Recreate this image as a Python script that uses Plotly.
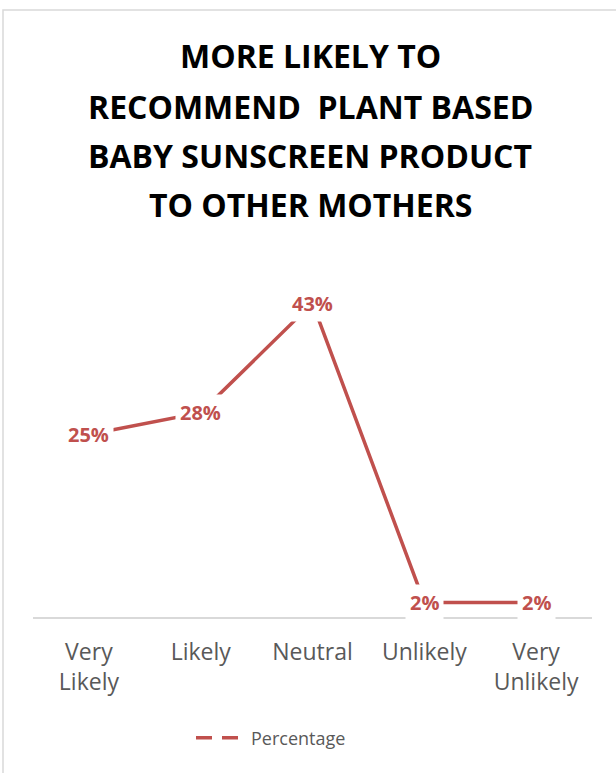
import plotly.graph_objects as go

categories = ["Very<br>Likely", "Likely", "Neutral", "Unlikely", "Very<br>Unlikely"]
percentages = [25, 28, 43, 2, 2]
title_lines = ["MORE LIKELY TO", "RECOMMEND  PLANT BASED", "BABY SUNSCREEN PRODUCT", "TO OTHER MOTHERS"]
series_name = "Percentage"

RED = "#C0504D"
GRAY = "#595959"
FONT = "Open Sans"

W, H = 616, 773
L, R = 33, 24
T, B = 252, 156
plot_h = H - T - B

def py(ypix):
    return (H - B - ypix) / plot_h

def px(xpix):
    return (xpix - L) / (W - L - R)

fig = go.Figure()
fig.add_trace(go.Scatter(
    x=categories, y=percentages, mode="lines",
    line=dict(color=RED, width=3.5), showlegend=False, hoverinfo="skip"))
fig.add_trace(go.Scatter(
    x=[None], y=[None], mode="lines", name=series_name,
    line=dict(color=RED, width=3.5, dash="16px,10px"), showlegend=True))

annotations = []
for c, v in zip(categories, percentages):
    annotations.append(dict(
        x=c, y=v, xref="x", yref="y", text=f"{v}%", showarrow=False,
        font=dict(family=FONT, size=20, color=RED, weight="bold"),
        bgcolor="white", borderpad=4))

title_y = [55, 106, 155, 204]
for line, yp in zip(title_lines, title_y):
    annotations.append(dict(
        x=px(310), y=py(yp), xref="paper", yref="paper", text=line, showarrow=False,
        xanchor="center", yanchor="middle",
        font=dict(family=FONT, size=32, color="black", weight="bold")))

fig.update_layout(
    width=W, height=H,
    margin=dict(l=L, r=R, t=T, b=B),
    paper_bgcolor="white", plot_bgcolor="white",
    annotations=annotations,
    showlegend=True,
    legend=dict(orientation="h", x=px(191), xanchor="left", y=py(738), yanchor="middle",
                font=dict(family=FONT, size=18, color=GRAY), itemwidth=50),
    xaxis=dict(showline=True, linecolor="#D9D9D9", linewidth=1.5, showgrid=False,
               ticks="", tickfont=dict(family=FONT, size=23, color=GRAY), zeroline=False,
               range=[-0.5, 4.5], ticklabelstandoff=14, fixedrange=True),
    yaxis=dict(range=[0, 50], visible=False, showgrid=False, zeroline=False, fixedrange=True),
    shapes=[dict(type="rect", xref="paper", yref="paper",
                 x0=px(3), x1=px(640), y0=py(800), y1=py(10),
                 line=dict(color="#D9D9D9", width=1.5), fillcolor="rgba(0,0,0,0)", layer="below")],
)

fig.write_html("out.html", config={"displayModeBar": False},
               post_script="document.body.style.margin='0';document.body.style.overflow='hidden';")
